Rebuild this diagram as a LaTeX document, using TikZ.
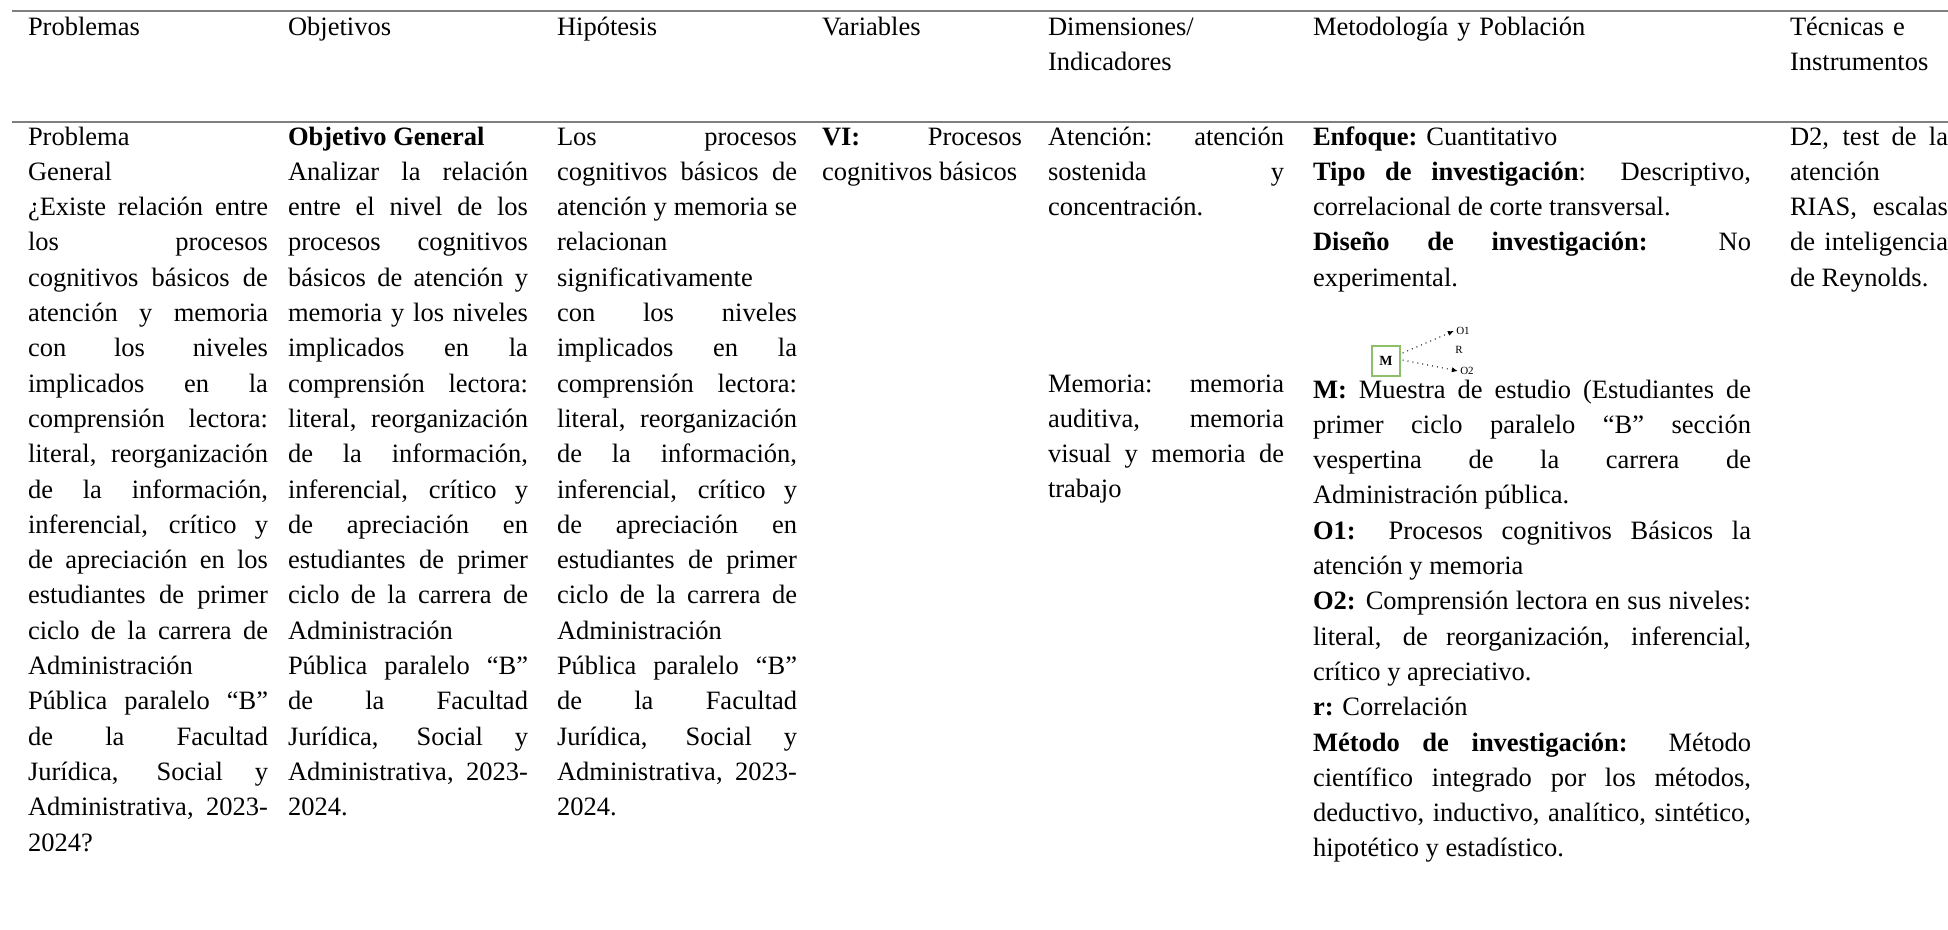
\documentclass[tikz,border=0pt]{standalone}
\usepackage{fontspec}
\setmainfont{Liberation Serif}
\usetikzlibrary{arrows.meta}
\definecolor{rulegray}{HTML}{7F7F7F}
\definecolor{boxgreen}{HTML}{8CBF6A}
\newcommand{\cellsetup}{\tolerance=10000 \hbadness=10000 \hyphenpenalty=10000 \exhyphenpenalty=10000 \strut}
\begin{document}
\begin{tikzpicture}[x=0.5pt,y=-0.5pt,
  body/.style={anchor=north west, inner sep=0pt, outer sep=0pt, align=justify,
    font=\fontsize{13.25pt}{17.65pt}\selectfont},
  head/.style={anchor=north west, inner sep=0pt, outer sep=0pt, align=left,
    font=\fontsize{13.25pt}{17.65pt}\selectfont},
  rulel/.style={draw=rulegray, line width=1.3pt},
  mbox/.style={draw=boxgreen, line width=0.6pt, minimum width=14pt, minimum height=15pt,
    inner sep=0pt, font=\fontsize{7pt}{8pt}\selectfont\bfseries},
  tiny/.style={inner sep=1pt, font=\fontsize{5.5pt}{6pt}\selectfont},
  darr/.style={dotted, line width=0.5pt, -{Latex[length=3pt,width=2.6pt]}}]
\useasboundingbox (0,0) rectangle (1948,930);
% rules
\coordinate (r1a) at (12,11); \coordinate (r1b) at (1948,11);
\coordinate (r2a) at (12,122); \coordinate (r2b) at (1948,122);
\draw[rulel] (r1a) -- (r1b);
\draw[rulel] (r2a) -- (r2b);
% header
\node[head, text width=120pt] (h1) at (28,10.3) {\cellsetup Problemas};
\node[head, text width=120pt] (h2) at (288,10.3) {\cellsetup Objetivos};
\node[head, text width=120pt] (h3) at (557,10.3) {\cellsetup Hipótesis};
\node[head, text width=100pt] (h4) at (822,10.3) {\cellsetup Variables};
\node[head, text width=118pt] (h5) at (1048,10.3) {\cellsetup Dimensiones/\newline Indicadores};
\node[head, text width=219pt] (h6) at (1313,10.3) {\cellsetup Metodología y Población};
\node[head, text width=79pt] (h7) at (1790,10.3) {\cellsetup Técnicas e\newline Instrumentos};
% column 1
\node[body, text width=120pt] (c1) at (28,120.3) {\cellsetup Problema\newline
General\newline
¿Existe relación entre\linebreak
los procesos\linebreak
cognitivos básicos de\linebreak
atención y memoria\linebreak
con los niveles\linebreak
implicados en la\linebreak
comprensión lectora:\linebreak
literal, reorganización\linebreak
de la información,\linebreak
inferencial, crítico y\linebreak
de apreciación en los\linebreak
estudiantes de primer\linebreak
ciclo de la carrera de\linebreak
Administración\newline
Pública paralelo “B”\linebreak
de la Facultad\linebreak
Jurídica, Social y\linebreak
Administrativa, 2023-\linebreak
2024?};
% column 2
\node[body, text width=120pt] (c2) at (288,120.3) {\cellsetup \textbf{Objetivo General}\newline
Analizar la relación\linebreak
entre el nivel de los\linebreak
procesos cognitivos\linebreak
básicos de atención y\linebreak
memoria y los niveles\linebreak
implicados en la\linebreak
comprensión lectora:\linebreak
literal, reorganización\linebreak
de la información,\linebreak
inferencial, crítico y\linebreak
de apreciación en\linebreak
estudiantes de primer\linebreak
ciclo de la carrera de\linebreak
Administración\newline
Pública paralelo “B”\linebreak
de la Facultad\linebreak
Jurídica, Social y\linebreak
Administrativa, 2023-\linebreak
2024.};
% column 3
\node[body, text width=120pt] (c3) at (557,120.3) {\cellsetup Los procesos\linebreak
cognitivos básicos de\linebreak
atención y memoria se\linebreak
relacionan\newline
significativamente\newline
con los niveles\linebreak
implicados en la\linebreak
comprensión lectora:\linebreak
literal, reorganización\linebreak
de la información,\linebreak
inferencial, crítico y\linebreak
de apreciación en\linebreak
estudiantes de primer\linebreak
ciclo de la carrera de\linebreak
Administración\newline
Pública paralelo “B”\linebreak
de la Facultad\linebreak
Jurídica, Social y\linebreak
Administrativa, 2023-\linebreak
2024.};
% column 4
\node[body, text width=100pt] (c4) at (822,120.3) {\cellsetup \textbf{VI:} Procesos\linebreak
cognitivos básicos};
% column 5
\node[body, text width=118pt] (c5a) at (1048,120.3) {\cellsetup Atención: atención\linebreak
sostenida y\linebreak
concentración.};
\node[body, text width=118pt] (c5b) at (1048,367.3) {\cellsetup Memoria: memoria\linebreak
auditiva, memoria\linebreak
visual y memoria de\linebreak
trabajo};
% column 6
\node[body, text width=219pt] (c6a) at (1313,120.3) {\cellsetup \textbf{Enfoque:} Cuantitativo\newline
\textbf{Tipo de investigación}: Descriptivo,\linebreak
correlacional de corte transversal.\newline
\textbf{Diseño de investigación:} No\linebreak
experimental.};
\node[mbox] (m) at (1386,361) {M};
\node[tiny] (o1) at (1463,331) {O1};
\node[tiny] (r) at (1459,350) {R};
\node[tiny] (o2) at (1467,371) {O2};
\draw[darr] ([shift={(2,-8)}]m.east) -- (o1.west);
\draw[darr] ([shift={(2,-1)}]m.east) -- (o2.west);
\node[body, text width=219pt] (c6b) at (1313,373.3) {\cellsetup \textbf{M:} Muestra de estudio (Estudiantes de\linebreak
primer ciclo paralelo “B” sección\linebreak
vespertina de la carrera de\linebreak
Administración pública.\newline
\textbf{O1:} Procesos cognitivos Básicos la\linebreak
atención y memoria\newline
\textbf{O2:} Comprensión lectora en sus niveles:\linebreak
literal, de reorganización, inferencial,\linebreak
crítico y apreciativo.\newline
\textbf{r:} Correlación\newline
\textbf{Método de investigación:} Método\linebreak
científico integrado por los métodos,\linebreak
deductivo, inductivo, analítico, sintético,\linebreak
hipotético y estadístico.};
% column 7
\node[body, text width=79pt] (c7) at (1790,120.3) {\cellsetup D2, test de la\linebreak
atención\newline
RIAS, escalas\linebreak
de inteligencia\linebreak
de Reynolds.};
\end{tikzpicture}
\end{document}
